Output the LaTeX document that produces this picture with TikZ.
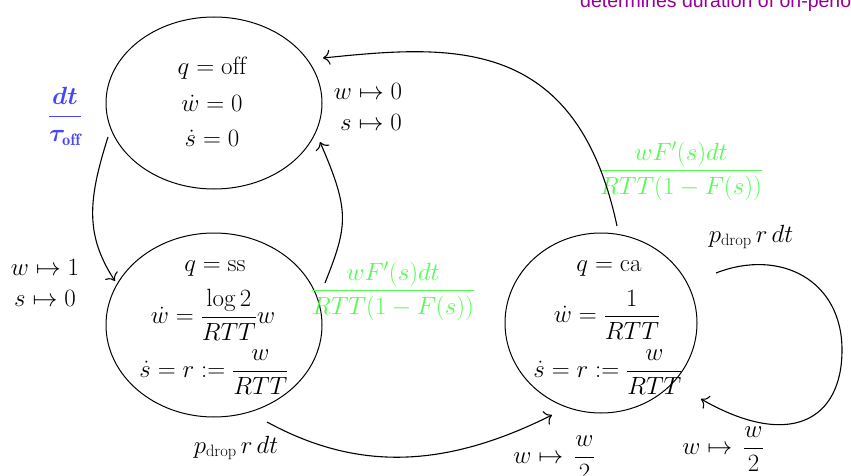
\documentclass[tikz,border=0pt]{standalone}
\usepackage{fontspec}
\usepackage{amsmath}
\newfontfamily\notefont{Liberation Sans}
\usetikzlibrary{shapes.geometric,arrows.meta,calc}
\definecolor{lblue}{RGB}{70,70,255}
\definecolor{lgreen}{RGB}{80,255,80}
\definecolor{purp}{RGB}{150,0,150}
\begin{document}
\begin{tikzpicture}[x=1pt,y=-1pt,
  state/.style={draw, ellipse, line width=1pt, inner sep=0pt},
  st/.style={inner sep=0pt, font=\fontsize{25}{30}\selectfont},
  lbl/.style={inner sep=0pt, font=\fontsize{23.5}{28}\selectfont},
  boldlbl/.style={inner sep=0pt, font={\fontsize{23.5}{28}\selectfont\boldmath}},
  conn/.style={line width=1.1pt, -{To[length=7pt,width=15pt]}}]
\useasboundingbox (0,0) rectangle (851,476);
\clip (0,0) rectangle (851,476);
% states
\node[state, minimum width=216pt, minimum height=172pt] (off) at (214,103) {};
\node[state, minimum width=216pt, minimum height=184pt] (ss) at (214,325) {};
\node[state, minimum width=192pt, minimum height=180pt] (ca) at (601,323) {};
% state texts
\node[st] (offq) at (212,68) {$q=\mathrm{off}$};
\node[st] (offw) at (212,103) {$\dot w=0$};
\node[st] (offs) at (212,138) {$\dot s=0$};
\node[st] (ssq) at (215,268) {$q=\mathrm{ss}$};
\node[st] (ssw) at (213,315) {$\dot w=\dfrac{\log 2}{RTT}w$};
\node[st] (sss) at (214,372) {$\dot s=r:=\dfrac{w}{RTT}$};
\node[st] (caq) at (609,268) {$q=\mathrm{ca}$};
\node[st] (caw) at (607,315) {$\dot w=\dfrac{1}{RTT}$};
\node[st] (cas) at (608,372) {$\dot s=r:=\dfrac{w}{RTT}$};
% labels
\node[boldlbl, text=lblue] (toff) at (65,116) {$\dfrac{dt}{\tau_{\mathrm{off}}}$};
\node[lbl] (wone) at (45,267) {$w\mapsto 1$};
\node[lbl] (szeroa) at (45,298) {$s\mapsto 0$};
\node[lbl] (wzero) at (368,91) {$w\mapsto 0$};
\node[lbl] (szerob) at (371,122) {$s\mapsto 0$};
\node[lbl, text=lgreen] (fa) at (393,291) {$\dfrac{wF'(s)dt}{RTT(1-F(s))}$};
\node[lbl, text=lgreen] (fb) at (681,171) {$\dfrac{wF'(s)dt}{RTT(1-F(s))}$};
\node[lbl] (pdr) at (751,237) {$p_{\mathrm{drop}}\,r\,dt$};
\node[lbl] (pdb) at (236,448) {$p_{\mathrm{drop}}\,r\,dt$};
\node[lbl] (halfb) at (554,458) {$w\mapsto\,\dfrac{w}{2}$};
\node[lbl] (halfr) at (723,449) {$w\mapsto\,\dfrac{w}{2}$};
\node[anchor=base west, inner sep=0pt, text=purp, font=\notefont\fontsize{19.5}{23}\selectfont] (note) at (580,8) {determines duration of on-period};
% connectors
\draw[conn] ($(off.center)+(-106,34)$) .. controls (88,200) and (85,235) .. ($(ss.center)+(-99,-44)$);
\draw[conn] ($(ss.center)+(111,-42)$) .. controls (348,225) and (350,211) .. ($(off.center)+(106,39)$);
\draw[conn] ($(ca.center)+(16,-97)$) .. controls (576,34) and (450,45) .. ($(off.center)+(109,-45)$);
\draw[conn] ($(ss.center)+(53,97)$) .. controls (355,470) and (442,470) .. ($(ca.center)+(-49,92)$);
\draw[conn] ($(ca.center)+(115,-50)$) .. controls (780,248) and (842,280) .. (842,350)
  .. controls (842,420) and (790,450) .. ($(ca.center)+(100,76)$);
\end{tikzpicture}
\end{document}
